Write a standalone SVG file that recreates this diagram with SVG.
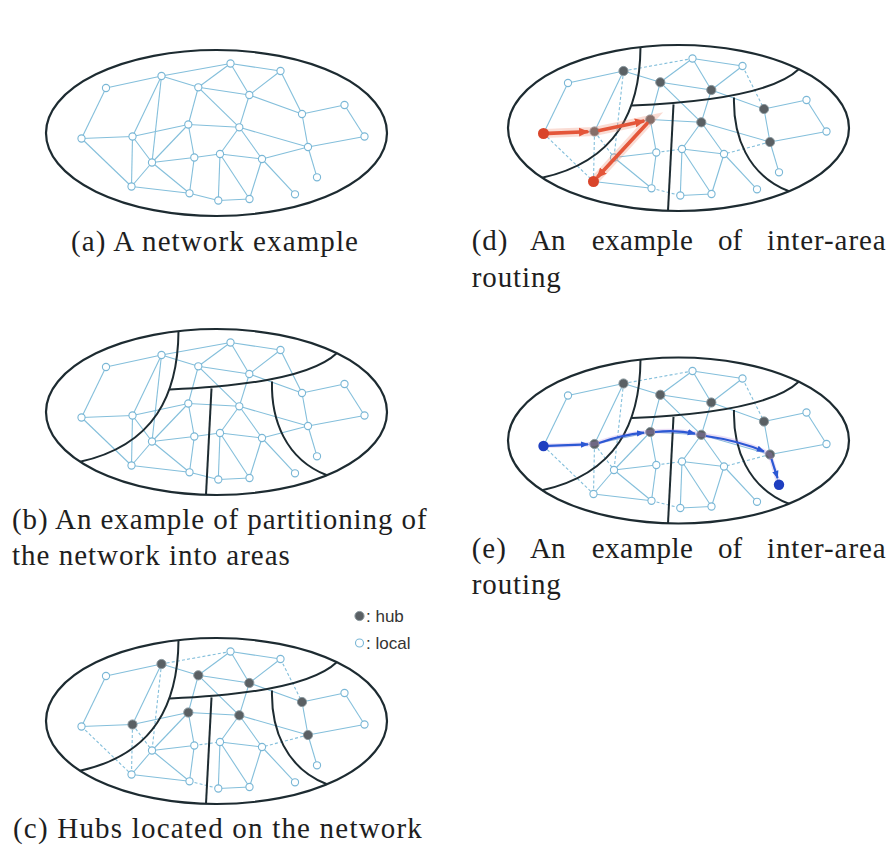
<svg xmlns="http://www.w3.org/2000/svg" width="893" height="850" viewBox="0 0 893 850">
<defs>
<marker id="arrRed" viewBox="0 0 10 10" refX="8" refY="5" markerWidth="10" markerHeight="10" markerUnits="userSpaceOnUse" orient="auto"><path d="M0,0.5 L10,5 L0,9.5 z" fill="#e4563a"/></marker>
<marker id="arrBlue" viewBox="0 0 10 10" refX="9" refY="5" markerWidth="8" markerHeight="8" markerUnits="userSpaceOnUse" orient="auto"><path d="M0,1 L10,5 L0,9 z" fill="#2c58d4"/></marker>
<ellipse id="oval" cx="216.5" cy="133" rx="170.5" ry="83" fill="none" stroke="#1d2b31" stroke-width="2.2"/>
<g id="areas" fill="none" stroke="#1d2b31" stroke-width="2">
<path d="M178.5,52 C178,115 155,166 80,182.8"/>
<path d="M170,110.5 C230,108 310,100 337,74"/>
<line x1="211.5" y1="109.4" x2="206" y2="215.8"/>
<path d="M272,102.5 C271,140 285,180 327,196.3"/>
</g>
<g id="edges-main" stroke="#84bfdb" stroke-width="1.1" fill="none">
<line x1="230.5" y1="63.5" x2="280.5" y2="71"/>
<line x1="230.5" y1="63.5" x2="198.3" y2="87.3"/>
<line x1="230.5" y1="63.5" x2="249.3" y2="95"/>
<line x1="280.5" y1="71" x2="249.3" y2="95"/>
<line x1="161.5" y1="76" x2="106" y2="88"/>
<line x1="161.5" y1="76" x2="198.3" y2="87.3"/>
<line x1="161.5" y1="76" x2="132.5" y2="136.5"/>
<line x1="106" y1="88" x2="81.5" y2="138.5"/>
<line x1="198.3" y1="87.3" x2="249.3" y2="95"/>
<line x1="198.3" y1="87.3" x2="188.3" y2="124.5"/>
<line x1="198.3" y1="87.3" x2="239.3" y2="127.3"/>
<line x1="249.3" y1="95" x2="302" y2="114"/>
<line x1="249.3" y1="95" x2="239.3" y2="127.3"/>
<line x1="344.5" y1="105" x2="302" y2="114"/>
<line x1="344.5" y1="105" x2="364.5" y2="136.5"/>
<line x1="302" y1="114" x2="308" y2="147"/>
<line x1="188.3" y1="124.5" x2="239.3" y2="127.3"/>
<line x1="188.3" y1="124.5" x2="132.5" y2="136.5"/>
<line x1="188.3" y1="124.5" x2="194.3" y2="157.5"/>
<line x1="188.3" y1="124.5" x2="152" y2="162.5"/>
<line x1="239.3" y1="127.3" x2="308" y2="147"/>
<line x1="239.3" y1="127.3" x2="220" y2="154"/>
<line x1="239.3" y1="127.3" x2="262" y2="159"/>
<line x1="81.5" y1="138.5" x2="132.5" y2="136.5"/>
<line x1="364.5" y1="136.5" x2="308" y2="147"/>
<line x1="308" y1="147" x2="317" y2="177.3"/>
<line x1="194.3" y1="157.5" x2="152" y2="162.5"/>
<line x1="194.3" y1="157.5" x2="189.5" y2="193.3"/>
<line x1="220" y1="154" x2="262" y2="159"/>
<line x1="220" y1="154" x2="218.3" y2="200.5"/>
<line x1="220" y1="154" x2="249.5" y2="199"/>
<line x1="262" y1="159" x2="295" y2="194.3"/>
<line x1="262" y1="159" x2="249.5" y2="199"/>
<line x1="152" y1="162.5" x2="131.5" y2="186.5"/>
<line x1="152" y1="162.5" x2="189.5" y2="193.3"/>
<line x1="131.5" y1="186.5" x2="189.5" y2="193.3"/>
<line x1="218.3" y1="200.5" x2="249.5" y2="199"/>
</g>
<g id="edges-inter" stroke="#84bfdb" stroke-width="1.1" fill="none">
<line x1="161.5" y1="76" x2="230.5" y2="63.5"/>
<line x1="280.5" y1="71" x2="302" y2="114"/>
<line x1="161.5" y1="76" x2="152" y2="162.5"/>
<line x1="81.5" y1="138.5" x2="131.5" y2="186.5"/>
<line x1="132.5" y1="136.5" x2="152" y2="162.5"/>
<line x1="132.5" y1="136.5" x2="131.5" y2="186.5"/>
<line x1="308" y1="147" x2="262" y2="159"/>
<line x1="194.3" y1="157.5" x2="220" y2="154"/>
<line x1="189.5" y1="193.3" x2="218.3" y2="200.5"/>
</g>
<g id="nodes" fill="#ffffff" stroke="#7ab7d6" stroke-width="1.1">
<g id="n1"><circle cx="230.5" cy="63.5" r="3.6"/></g>
<g id="n2"><circle cx="280.5" cy="71" r="3.6"/></g>
<g id="n3"><circle cx="161.5" cy="76" r="3.6"/></g>
<g id="n4"><circle cx="106" cy="88" r="3.6"/></g>
<g id="n5"><circle cx="198.3" cy="87.3" r="3.6"/></g>
<g id="n6"><circle cx="249.3" cy="95" r="3.6"/></g>
<g id="n7"><circle cx="344.5" cy="105" r="3.6"/></g>
<g id="n8"><circle cx="302" cy="114" r="3.6"/></g>
<g id="n9"><circle cx="188.3" cy="124.5" r="3.6"/></g>
<g id="n10"><circle cx="239.3" cy="127.3" r="3.6"/></g>
<g id="n11"><circle cx="81.5" cy="138.5" r="3.6"/></g>
<g id="n12"><circle cx="132.5" cy="136.5" r="3.6"/></g>
<g id="n13"><circle cx="364.5" cy="136.5" r="3.6"/></g>
<g id="n14"><circle cx="308" cy="147" r="3.6"/></g>
<g id="n15"><circle cx="194.3" cy="157.5" r="3.6"/></g>
<g id="n16"><circle cx="220" cy="154" r="3.6"/></g>
<g id="n17"><circle cx="262" cy="159" r="3.6"/></g>
<g id="n18"><circle cx="152" cy="162.5" r="3.6"/></g>
<g id="n19"><circle cx="317" cy="177.3" r="3.6"/></g>
<g id="n20"><circle cx="131.5" cy="186.5" r="3.6"/></g>
<g id="n21"><circle cx="189.5" cy="193.3" r="3.6"/></g>
<g id="n22"><circle cx="295" cy="194.3" r="3.6"/></g>
<g id="n23"><circle cx="218.3" cy="200.5" r="3.6"/></g>
<g id="n24"><circle cx="249.5" cy="199" r="3.6"/></g>
</g>
<g id="hubs" fill="#5a6064" stroke="#8a989e" stroke-width="1">
<g id="h3"><circle cx="161.5" cy="76" r="4.6"/></g>
<g id="h5"><circle cx="198.3" cy="87.3" r="4.6"/></g>
<g id="h6"><circle cx="249.3" cy="95" r="4.6"/></g>
<g id="h8"><circle cx="302" cy="114" r="4.6"/></g>
<g id="h9"><circle cx="188.3" cy="124.5" r="4.6"/></g>
<g id="h10"><circle cx="239.3" cy="127.3" r="4.6"/></g>
<g id="h12"><circle cx="132.5" cy="136.5" r="4.6"/></g>
<g id="h14"><circle cx="308" cy="147" r="4.6"/></g>
</g>
</defs>
<rect width="893" height="850" fill="#ffffff"/>

<g id="captions" fill="#1e1e1e">
<text x="71" y="251" font-family="Liberation Serif" font-size="29" letter-spacing="1.1">(a) A network example</text>
<text x="471.7" y="250" font-family="Liberation Serif" font-size="29" letter-spacing="1">(d)</text>
<text x="530" y="250" font-family="Liberation Serif" font-size="29">An</text>
<text x="591.7" y="250" font-family="Liberation Serif" font-size="29" letter-spacing="0.5">example</text>
<text x="718" y="250" font-family="Liberation Serif" font-size="29">of</text>
<text x="767" y="250" font-family="Liberation Serif" font-size="29" letter-spacing="0.9">inter-area</text>
<text x="471.7" y="287" font-family="Liberation Serif" font-size="29" letter-spacing="0.9">routing</text>
<text x="12" y="529" font-family="Liberation Serif" font-size="29" letter-spacing="0.9">(b) An example of partitioning of</text>
<text x="12" y="565" font-family="Liberation Serif" font-size="29" letter-spacing="1">the network into areas</text>
<text x="471.7" y="558" font-family="Liberation Serif" font-size="29" letter-spacing="1">(e)</text>
<text x="530" y="558" font-family="Liberation Serif" font-size="29">An</text>
<text x="591.7" y="558" font-family="Liberation Serif" font-size="29" letter-spacing="0.5">example</text>
<text x="718" y="558" font-family="Liberation Serif" font-size="29">of</text>
<text x="767" y="558" font-family="Liberation Serif" font-size="29" letter-spacing="0.9">inter-area</text>
<text x="471.7" y="594" font-family="Liberation Serif" font-size="29" letter-spacing="0.9">routing</text>
<text x="13" y="838" font-family="Liberation Serif" font-size="29" letter-spacing="1.2">(c) Hubs located on the network</text>
</g>

<g id="panel-a">
<use href="#oval"/>
<g id="connectors-a"><use href="#edges-main"/><use href="#edges-inter"/></g>
<use href="#nodes"/>
</g>

<g id="panel-b" transform="translate(0,279)">
<use href="#oval"/>
<g id="connectors-b"><use href="#edges-main"/><use href="#edges-inter"/></g>
<use href="#nodes"/>
<use href="#areas"/>
</g>

<g id="panel-c" transform="translate(0,588)">
<use href="#oval"/>
<g id="connectors-c"><use href="#edges-main"/><use href="#edges-inter" stroke-dasharray="3 2.2"/></g>
<use href="#nodes"/>
<use href="#hubs"/>
<use href="#areas"/>
</g>
<g id="legend">
<g id="legend-hub"><circle cx="359.5" cy="616" r="4.6" fill="#5a6064" stroke="#8a989e" stroke-width="1"/></g>
<text x="366" y="622" font-family="Liberation Sans" font-size="17" fill="#333">: hub</text>
<g id="legend-local"><circle cx="359.5" cy="643" r="4" fill="#ffffff" stroke="#7ab7d6" stroke-width="1.1"/></g>
<text x="366" y="649" font-family="Liberation Sans" font-size="17" fill="#333">: local</text>
</g>

<g id="panel-d" transform="translate(462,-5)">
<use href="#oval"/>
<g id="connectors-d"><use href="#edges-main"/><use href="#edges-inter" stroke-dasharray="3 2.2"/></g>
<use href="#nodes"/>
<use href="#hubs"/>
<use href="#areas"/>
</g>
<g id="route-red" fill="none" stroke-linecap="round">
<path d="M543.5,133.5 L594.5,131.5 L650.3,119.5 L593.5,181.5" stroke="#f08a70" stroke-width="9" stroke-opacity="0.3"/>
<path d="M548,133.4 L587,131.8" stroke="#e4563a" stroke-width="3.6" marker-end="url(#arrRed)"/>
<path d="M599.5,130.4 L643,121.2" stroke="#e4563a" stroke-width="3.6" marker-end="url(#arrRed)"/>
<path d="M647,123.5 L598,176.5" stroke="#e4563a" stroke-width="3.6" marker-end="url(#arrRed)"/>
<g id="red-src"><circle cx="543.5" cy="133.5" r="5.5" fill="#d9442a"/></g>
<g id="red-dst"><circle cx="593.5" cy="181.5" r="5.5" fill="#d9442a"/></g>
</g>

<g id="panel-e" transform="translate(462,307.5)">
<use href="#oval"/>
<g id="connectors-e"><use href="#edges-main"/><use href="#edges-inter" stroke-dasharray="3 2.2"/></g>
<use href="#nodes"/>
<use href="#hubs"/>
<use href="#areas"/>
</g>
<g id="route-blue" fill="none">
<path d="M543.5,446 L594.5,444 Q622,434 650.3,432 Q678,429 701.3,434.8 Q745,441 770,454.5 L779,484.8" stroke="#b07ee0" stroke-width="4.5" stroke-opacity="0.25"/>
<path d="M548,445.9 L588,444.3" stroke="#2c58d4" stroke-width="2.2" marker-end="url(#arrBlue)"/>
<path d="M599,443 Q621,435 644,432.6" stroke="#2c58d4" stroke-width="2.2" marker-end="url(#arrBlue)"/>
<path d="M655,432 Q676,429.5 695,433.6" stroke="#2c58d4" stroke-width="2.2" marker-end="url(#arrBlue)"/>
<path d="M706,436 Q740,441 764,451.5" stroke="#2c58d4" stroke-width="2.2" marker-end="url(#arrBlue)"/>
<path d="M771.5,459 L777.5,478" stroke="#2c58d4" stroke-width="2.2" marker-end="url(#arrBlue)"/>
<g id="blue-src"><circle cx="543.5" cy="446" r="5.2" fill="#1f3fc0"/></g>
<g id="blue-dst"><circle cx="779" cy="484.8" r="5.2" fill="#1f3fc0"/></g>
</g>
</svg>
